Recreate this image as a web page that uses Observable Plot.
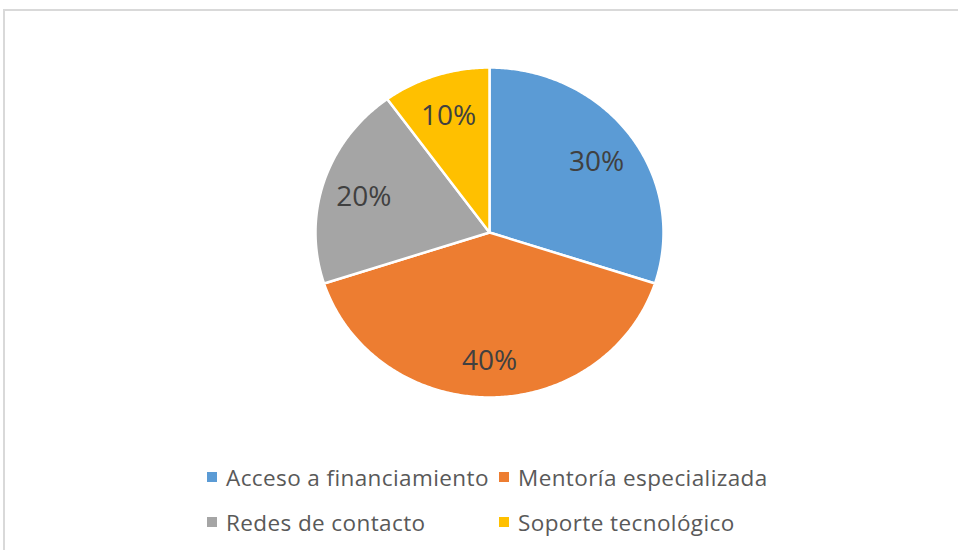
<!DOCTYPE html>
<html>
<head>
<meta charset="utf-8">
<script src="https://cdn.jsdelivr.net/npm/d3@7"></script>
<script src="https://cdn.jsdelivr.net/npm/@observablehq/plot@0.6"></script>
<style>
  html, body { margin: 0; padding: 0; background: #fff; }
  #wrap { position: relative; width: 958px; height: 550px; overflow: hidden; background: #fff; font-family: "Open Sans", sans-serif; }
  #frame { position: absolute; left: 3px; top: 9px; width: 980px; height: 580px; border: 2px solid #d9d9d9; box-sizing: border-box; }
  #chart { position: absolute; left: 0; top: 0; }
  .item { position: absolute; height: 30px; display: flex; align-items: center; white-space: nowrap; }
  .sw { width: 10px; height: 10px; margin-right: 9px; flex: none; }
  .lbl { font-size: 22.5px; letter-spacing: 0.4px; color: #595959; }
</style>
</head>
<body>
<div id="wrap">
  <div id="frame"></div>
  <div id="chart"></div>
  <div id="legend"></div>
</div>
<script>
const categories = ["Acceso a financiamiento", "Mentoría especializada", "Redes de contacto", "Soporte tecnológico"];
const values = [30, 40, 20, 10];
const colors = ["#5B9BD5", "#ED7D31", "#A5A5A5", "#FFC000"];

const total = d3.sum(values);
const arcs = d3.pie().sort(null).value(d => d.value)(categories.map((c, i) => ({category: c, value: values[i]})));

// wedge outlines in unit-circle coordinates (y up), angles clockwise from 12 o'clock
const wedgePts = [];
arcs.forEach(a => {
  const c = a.data.category;
  wedgePts.push({category: c, x: 0, y: 0});
  const n = Math.max(2, Math.ceil((a.endAngle - a.startAngle) / 0.01));
  for (let k = 0; k <= n; k++) {
    const t = a.startAngle + (a.endAngle - a.startAngle) * k / n;
    wedgePts.push({category: c, x: Math.sin(t), y: Math.cos(t)});
  }
  wedgePts.push({category: c, x: 0, y: 0});
});

const labelR = 0.76;
const labels = arcs.map(a => {
  const m = (a.startAngle + a.endAngle) / 2;
  return {category: a.data.category, x: labelR * Math.sin(m), y: labelR * Math.cos(m), text: Math.round(a.data.value / total * 100) + "%"};
});

const cx = 489, cy = 232, rx = 174, ry = 165;
const plot = Plot.plot({
  width: 958,
  height: 450,
  margin: 0,
  x: {domain: [-1, 1], range: [cx - rx, cx + rx], axis: null},
  y: {domain: [-1, 1], range: [cy + ry, cy - ry], axis: null},
  color: {domain: categories, range: colors},
  style: {fontFamily: "'Open Sans', sans-serif", background: "transparent"},
  marks: [
    Plot.line(wedgePts, {x: "x", y: "y", z: "category", fill: "category", stroke: "white", strokeWidth: 2.5, strokeLinejoin: "round"}),
    Plot.text(labels, {x: "x", y: "y", text: "text", fill: "#404040", fontSize: 28, dy: 3})
  ]
});
document.getElementById("chart").appendChild(plot);

// legend (2 x 2 grid)
const legend = document.getElementById("legend");
const colX = [207, 499];
const rowY = [462, 507];
categories.forEach((c, i) => {
  const it = document.createElement("div");
  it.className = "item";
  it.style.left = colX[i % 2] + "px";
  it.style.top = rowY[Math.floor(i / 2)] + "px";
  const sw = document.createElement("span");
  sw.className = "sw";
  sw.style.background = colors[i];
  const lb = document.createElement("span");
  lb.className = "lbl";
  lb.textContent = c;
  it.appendChild(sw);
  it.appendChild(lb);
  legend.appendChild(it);
});
</script>
</body>
</html>
